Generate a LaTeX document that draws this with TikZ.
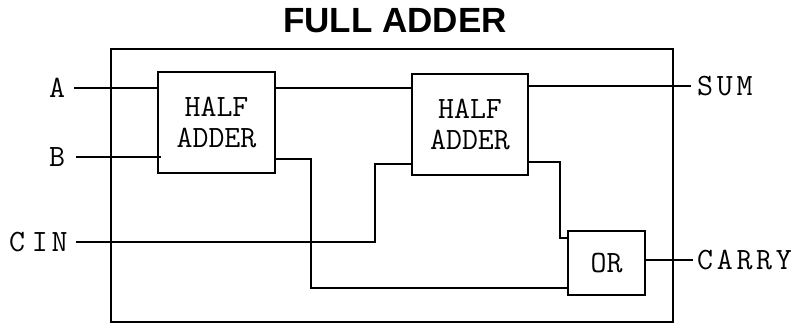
\documentclass[tikz,border=0pt]{standalone}
\usepackage{fontspec}
\setmainfont{Liberation Sans}
\newcommand{\lsp}{\kern3.7pt}
\begin{document}
\begin{tikzpicture}[x=1pt,y=-1pt,
  wire/.style={line width=1.8pt,line cap=rect},
  blk/.style={draw,line width=1.8pt,inner sep=0pt,align=center,
    font=\ttfamily\fontsize{31}{31}\selectfont},
  pinlabel/.style={inner sep=0pt,font=\ttfamily\fontsize{31}{31}\selectfont},
  titlestyle/.style={inner sep=0pt,font=\bfseries\fontsize{35}{40}\selectfont}]
\useasboundingbox (0,0) rectangle (795,324);
% title
\node[titlestyle] (title) at (395,21) {FULL ADDER};
% outer box
\node[draw,line width=1.8pt,minimum width=562pt,minimum height=273pt,inner sep=0pt] (outer) at (392,185.5) {};
% blocks
\node[blk,minimum width=117pt,minimum height=101pt] (ha1) at (216.5,122.5) {HALF\\ADDER};
\node[blk,minimum width=116pt,minimum height=101pt] (ha2) at (470,124.5) {HALF\\ADDER};
\node[blk,minimum width=77pt,minimum height=64pt] (or) at (606.5,263) {OR};
% labels
\node[pinlabel] (la) at (57,88) {A};
\node[pinlabel] (lb) at (57,157) {B};
\node[pinlabel,anchor=west] (lc) at (9,242) {C\lsp\kern3pt I\lsp N};
\node[pinlabel,anchor=west] (ls) at (697,86) {S\lsp U\lsp M};
\node[pinlabel,anchor=west] (lcy) at (697,260) {C\lsp A\lsp R\lsp R\lsp Y};
% wire ends
\coordinate (pa) at (75,88);
\coordinate (pb) at (77,157);
\coordinate (pc) at (77,242);
\coordinate (ps) at (690,86);
\coordinate (pcy) at (692,260);
% wires
\draw[wire] (pa) -- (pa -| ha1.west);
\draw[wire] (pb) -- ([xshift=3pt]pb -| ha1.west);
\draw[wire] (ha1.east |- pa) -- (ha2.west |- pa);
\draw[wire] (ha2.east |- ps) -- (ps);
\draw[wire] (ha1.east |- 0,159) -- (311,159) |- (or.west |- 0,288);
\draw[wire] (pc) -- (375,242) |- (ha2.west |- 0,164);
\draw[wire] (ha2.east |- 0,162) -- (560,162) |- (or.west |- 0,238);
\draw[wire] (or.east |- pcy) -- (pcy);
\end{tikzpicture}
\end{document}
